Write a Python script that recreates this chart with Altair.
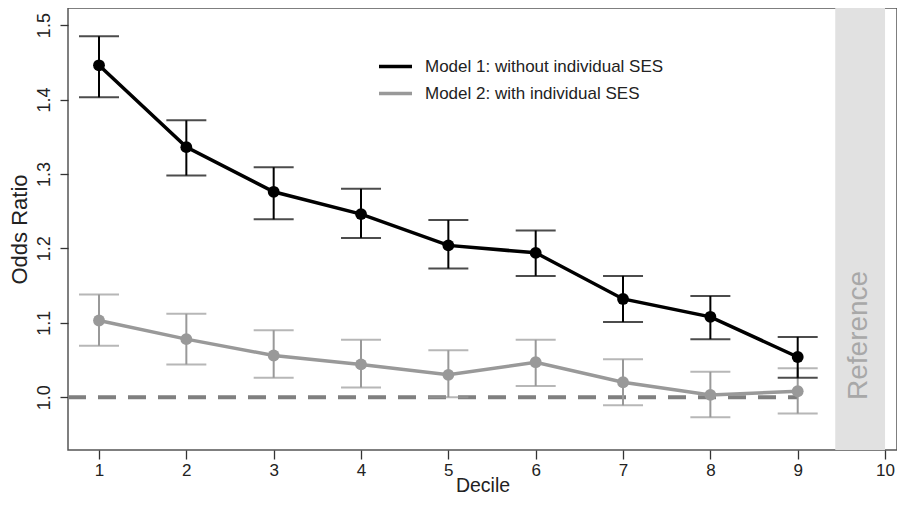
import altair as alt
import pandas as pd

deciles = [1, 2, 3, 4, 5, 6, 7, 8, 9]
model_names = ["Model 1: without individual SES", "Model 2: with individual SES"]

m1_or = [1.446, 1.336, 1.276, 1.246, 1.204, 1.194, 1.132, 1.108, 1.054]
m1_lo = [1.403, 1.298, 1.239, 1.214, 1.173, 1.163, 1.101, 1.078, 1.026]
m1_hi = [1.485, 1.372, 1.309, 1.280, 1.238, 1.224, 1.163, 1.136, 1.081]

m2_or = [1.103, 1.078, 1.056, 1.044, 1.030, 1.047, 1.020, 1.003, 1.008]
m2_lo = [1.069, 1.044, 1.026, 1.013, 1.000, 1.015, 0.989, 0.973, 0.978]
m2_hi = [1.138, 1.112, 1.090, 1.077, 1.063, 1.077, 1.051, 1.034, 1.039]

x_domain = [0.645, 10.137]
y_domain = [0.929, 1.523]
y_ticks = [1.0, 1.1, 1.2, 1.3, 1.4, 1.5]
x_ticks = [1, 2, 3, 4, 5, 6, 7, 8, 9, 10]

ref_band = pd.DataFrame({"x": [9.43], "x2": [10.0], "y": [y_domain[0]], "y2": [y_domain[1]]})
ref_label = pd.DataFrame({"x": [9.70], "y": [1.083], "t": ["Reference"]})
null_line = pd.DataFrame({"x": [x_domain[0]], "x2": [9.0], "y": [1.0]})

rows = []
for name, ors, los, his in [(model_names[0], m1_or, m1_lo, m1_hi), (model_names[1], m2_or, m2_lo, m2_hi)]:
    for d, o, l, h in zip(deciles, ors, los, his):
        rows.append({"Decile": d, "model": name, "or": o, "lo": l, "hi": h})
df = pd.DataFrame(rows)

FONT = "Liberation Sans"
xs = alt.Scale(domain=x_domain, nice=False, zero=False)
ys = alt.Scale(domain=y_domain, nice=False, zero=False)
cscale = alt.Scale(domain=model_names, range=["#000000", "#999999"])

band = alt.Chart(ref_band).mark_rect(color="#e1e1e1").encode(
    x=alt.X("x:Q", scale=xs), x2="x2:Q", y=alt.Y("y:Q", scale=ys), y2="y2:Q"
)
label = alt.Chart(ref_label).mark_text(angle=270, fontSize=28, color="#a8a8a8", font=FONT).encode(
    x=alt.X("x:Q", scale=xs), y=alt.Y("y:Q", scale=ys), text="t:N"
)
dash = alt.Chart(null_line).mark_rule(color="#7f7f7f", strokeWidth=4, strokeDash=[18, 12]).encode(
    x=alt.X("x:Q", scale=xs), x2="x2:Q", y=alt.Y("y:Q", scale=ys)
)

def model_layers(name, lw):
    d = df[df.model == name]
    base = alt.Chart(d)
    col = alt.Color("model:N", scale=cscale, legend=None)
    line = base.mark_line(strokeWidth=lw).encode(
        x=alt.X("Decile:Q", scale=xs,
                axis=alt.Axis(values=x_ticks, title="Decile", format="d")),
        y=alt.Y("or:Q", scale=ys,
                axis=alt.Axis(values=y_ticks, title="Odds Ratio", format=".1f")),
        color=alt.Color("model:N", scale=cscale,
                        legend=alt.Legend(title=None, orient="none", legendX=309, legendY=40,
                                          symbolType="stroke", symbolSize=1089,
                                          symbolStrokeWidth=3.5, labelFontSize=17,
                                          labelFont=FONT, labelColor="#222222", labelLimit=500,
                                          labelOffset=11, rowPadding=-14)),
    )
    vr = base.mark_rule(strokeWidth=2).encode(
        x=alt.X("Decile:Q", scale=xs), y=alt.Y("lo:Q", scale=ys), y2="hi:Q", color=col
    )
    cap_lo = base.mark_tick(orient="horizontal", size=40, thickness=2).encode(
        x=alt.X("Decile:Q", scale=xs), y=alt.Y("lo:Q", scale=ys), color=col
    )
    cap_hi = base.mark_tick(orient="horizontal", size=40, thickness=2).encode(
        x=alt.X("Decile:Q", scale=xs), y=alt.Y("hi:Q", scale=ys), color=col
    )
    pts = base.mark_circle(size=140, opacity=1).encode(
        x=alt.X("Decile:Q", scale=xs), y=alt.Y("or:Q", scale=ys), color=col
    )
    return [line, vr, cap_lo, cap_hi, pts]

layers = [band, label, dash] + model_layers(model_names[1], 3.5) + model_layers(model_names[0], 3.5)

chart = alt.layer(*layers).properties(
    width=829, height=442,
    autosize=alt.AutoSizeParams(type="none"),
    padding={"left": 60, "top": 0, "right": 0, "bottom": 49},
).configure_view(
    stroke="#555555", strokeWidth=1.5
).configure_axis(
    grid=False, domain=False,
    tickColor="#333333", tickSize=9, tickWidth=1.3,
    labelFont=FONT, labelFontSize=18, labelColor="#222222",
    titleFont=FONT, titleFontWeight="normal", titleColor="#222222",
).configure_axisX(
    labelPadding=3, labelFontSize=17, titlePadding=-2, titleFontSize=19.5
).configure_axisY(
    labelAngle=-90, labelPadding=7, titlePadding=4, titleFontSize=22, tickSize=8
)

chart.save("out.html", embed_options={"renderer": "svg", "actions": False})
